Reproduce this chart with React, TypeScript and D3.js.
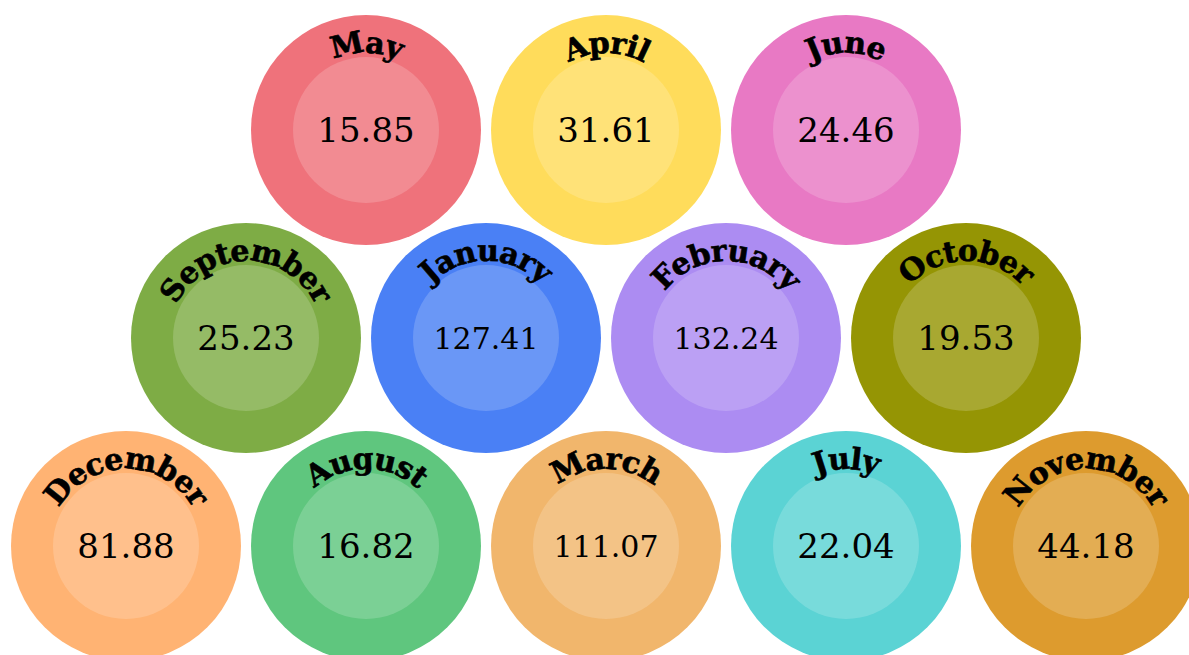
import React, { useEffect, useRef } from 'react'
import * as d3 from 'd3'

// maanden in de volgorde van de rijen (3, 4, 5)
const months = ['May', 'April', 'June', 'September', 'January', 'February', 'October', 'December', 'August', 'March', 'July', 'November']
const values = [15.85, 31.61, 24.46, 25.23, 127.41, 132.24, 19.53, 81.88, 16.82, 111.07, 22.04, 44.18]
const colors = ['#ef727b', '#ffdc5b', '#e879c4', '#7eac45', '#4a80f5', '#ac8cf2', '#959504', '#ffb373', '#5fc67e', '#f1b66c', '#5bd3d4', '#dd9b2e']
const rowSizes = [3, 4, 5]

const width = 1189
const height = 655

export default function App() {
  const ref = useRef<SVGSVGElement>(null)

  useEffect(() => {
    const svg = d3.select(ref.current)
    svg.selectAll('*').remove()

    // posities in een honingraat: halve kolommen en rijen
    const slots: { col: number; row: number }[] = []
    rowSizes.forEach((n, row) => {
      const offset = rowSizes[rowSizes.length - 1] - n
      for (let c = 0; c < n; c++) slots.push({ col: 2 * c + offset, row })
    })

    const x = d3.scaleLinear().domain([0, 8]).range([126, 1086])
    const y = d3.scaleLinear().domain([0, 2]).range([130, 546])
    const outerR = 115
    const innerR = 73
    const labelR = 77

    const data = months.map((m, i) => ({ month: m, value: values[i], color: colors[i], ...slots[i] }))

    const g = svg
      .selectAll('g.bubble')
      .data(data)
      .join('g')
      .attr('class', 'bubble')
      .attr('transform', d => `translate(${x(d.col)},${y(d.row)})`)

    g.append('circle').attr('r', outerR).attr('fill', d => d.color)
    g.append('circle').attr('r', innerR).attr('fill', '#fff').attr('fill-opacity', 0.18)

    g.append('path')
      .attr('id', (d, i) => `arc-${i}`)
      .attr('fill', 'none')
      .attr('d', `M${-labelR},0 A${labelR},${labelR} 0 0 1 ${labelR},0`)

    g.append('text')
      .attr('font-family', '"DejaVu Serif", serif')
      .attr('font-weight', 'bold')
      .attr('font-size', 30)
      .attr('letter-spacing', -1)
      .attr('fill', '#000')
      .attr('stroke', '#000')
      .attr('stroke-width', 0.6)
      .append('textPath')
      .attr('href', (d, i) => `#arc-${i}`)
      .attr('startOffset', '50%')
      .attr('text-anchor', 'middle')
      .text(d => d.month)

    g.append('text')
      .attr('text-anchor', 'middle')
      .attr('dy', '0.36em')
      .attr('font-family', '"DejaVu Serif", serif')
      .attr('font-size', d => (d.value.toFixed(2).length > 5 ? 30 : 34))
      .attr('fill', '#000')
      .text(d => d.value.toFixed(2))
  }, [])

  return (
    <svg
      ref={ref}
      width={width}
      height={height}
      style={{ position: 'absolute', left: 0, top: 0, background: '#fff' }}
    />
  )
}
